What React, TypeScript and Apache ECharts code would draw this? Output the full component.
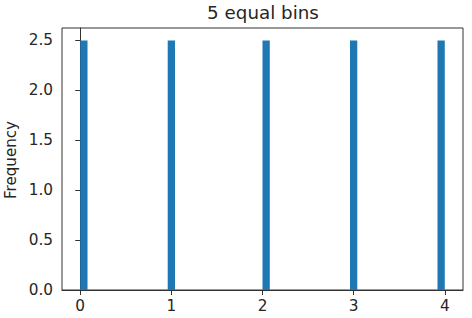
import React, { useEffect, useRef } from "react";
import * as echarts from "echarts";

const binLefts = [0, 0.96, 2.0, 2.96, 3.92];
const binWidth = 0.08;
const frequencies = [2.5, 2.5, 2.5, 2.5, 2.5];
const xTicks = [0, 1, 2, 3, 4];
const yTicks = [0, 0.5, 1.0, 1.5, 2.0, 2.5];

export default function App() {
  const ref = useRef<HTMLDivElement>(null);
  useEffect(() => {
    if (!ref.current) return;
    const chart = echarts.init(ref.current, null, { renderer: "svg" });
    const font = "DejaVu Sans";
    const txt = "#262626";
    chart.setOption({
      animation: false,
      grid: { left: 62, top: 28, right: 9, bottom: 28, show: true, borderColor: "#333", borderWidth: 1, backgroundColor: "transparent" },
      graphic: [
        { type: "text", x: 263, y: 12, style: { text: "5 equal bins", font: `18.3px '${font}'`, fill: txt, align: "center", verticalAlign: "middle" } },
        { type: "text", x: 11, y: 160, rotation: Math.PI / 2, style: { text: "Frequency", font: `15.1px '${font}'`, fill: txt, align: "center", verticalAlign: "middle" } },
      ],
      xAxis: {
        type: "value",
        min: -0.2,
        max: 4.2,
        splitLine: { show: false },
        axisLine: { show: true, onZero: false, lineStyle: { color: "#333", width: 1 } },
        axisTick: { show: true, length: 5, customValues: xTicks, lineStyle: { color: "#333" } },
        axisLabel: { customValues: xTicks, fontFamily: font, fontSize: 15.3, color: txt, margin: 8, formatter: (v: number) => String(v) },
      },
      yAxis: {
        type: "value",
        min: 0,
        max: 2.625,
        splitLine: { show: false },
        axisLine: { show: true, lineStyle: { color: "#333", width: 1 } },
        axisTick: { show: true, length: 5, customValues: yTicks, lineStyle: { color: "#333" } },
        axisLabel: { customValues: yTicks, fontFamily: font, fontSize: 15.3, color: txt, margin: 9, formatter: (v: number) => v.toFixed(1) },
      },
      series: [
        {
          type: "custom",
          data: binLefts.map((l, i) => [l, l + binWidth, frequencies[i]]),
          encode: { x: [0, 1], y: 2 },
          renderItem: (params: any, api: any) => {
            const p0 = api.coord([api.value(0), 0]);
            const p1 = api.coord([api.value(1), api.value(2)]);
            return {
              type: "rect",
              shape: { x: p0[0], y: p1[1], width: p1[0] - p0[0], height: p0[1] - p1[1] },
              style: { fill: "#1f77b4" },
            };
          },
        },
      ],
    });
    return () => chart.dispose();
  }, []);
  return <div ref={ref} style={{ width: 472, height: 318, position: "absolute", left: 0, top: 0 }} />;
}
